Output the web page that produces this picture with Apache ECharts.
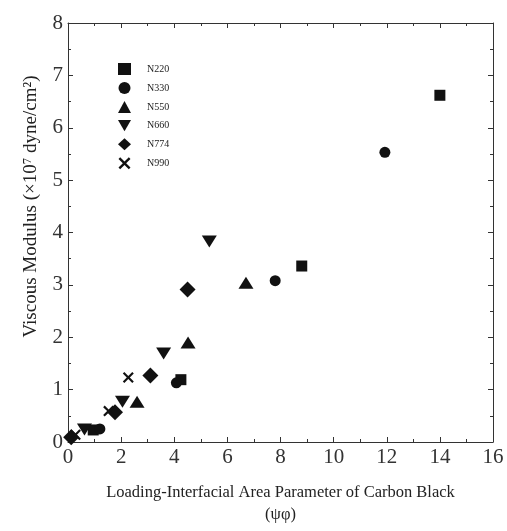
<!DOCTYPE html>
<html>
<head>
<meta charset="utf-8">
<script src="https://cdn.jsdelivr.net/npm/echarts@6/dist/echarts.min.js"></script>
<style>
  html, body { margin: 0; padding: 0; background: #fff; }
  #chart { width: 507px; height: 531px; }
</style>
</head>
<body>
<div id="chart"></div>
<script>
// grades of carbon black and their [psi*phi, viscous modulus] points
const grades = ['N220', 'N330', 'N550', 'N660', 'N774', 'N990'];
const n220 = [[0.95, 0.23], [4.25, 1.19], [8.8, 3.36], [14.0, 6.62]];
const n330 = [[1.2, 0.25], [4.08, 1.13], [7.8, 3.08], [11.93, 5.53]];
const n550 = [[2.6, 0.77], [4.52, 1.9], [6.7, 3.04]];
const n660 = [[0.62, 0.24], [2.05, 0.77], [3.6, 1.69], [5.32, 3.83]];
const n774 = [[0.12, 0.09], [1.77, 0.57], [3.1, 1.27], [4.5, 2.91]];
const n990 = [[0.28, 0.14], [1.53, 0.59], [2.27, 1.23]];
const xTicks = [0, 16, 2];
const yTicks = [0, 8, 1];

const serif = 'Liberation Serif';
const ink = '#111';

const downTri = 'path://M0,0 L10,0 L5,8.66 Z';
const cross = 'path://M0,1.4 L1.4,0 L5,3.6 L8.6,0 L10,1.4 L6.4,5 L10,8.6 L8.6,10 L5,6.4 L1.4,10 L0,8.6 L3.6,5 Z';

function makeSeries(name, data, symbol, size) {
  return {
    name: name,
    type: 'scatter',
    data: data,
    symbol: symbol,
    symbolSize: size,
    itemStyle: { color: ink, opacity: 1 },
    emphasis: { disabled: true }
  };
}

const axisBase = {
  axisLine: { show: true, onZero: false, lineStyle: { color: '#333', width: 1 } },
  axisTick: { show: true, inside: true, length: 5, lineStyle: { color: '#333' } },
  minorTick: { show: true, splitNumber: 2, length: 3, lineStyle: { color: '#333' } },
  splitLine: { show: false }
};

const myChart = echarts.init(document.getElementById('chart'));
const option = {
  animation: false,
  backgroundColor: '#fff',
  grid: { left: 68, right: 14, top: 23, bottom: 89 },
  legend: {
    data: grades,
    orient: 'vertical',
    left: 113,
    top: 58,
    itemWidth: 13,
    itemHeight: 12,
    itemGap: 7,
    textStyle: { fontFamily: serif, fontSize: 10, color: '#222', padding: [0, 0, 0, 11] }
  },
  xAxis: [
    Object.assign({}, axisBase, {
      type: 'value',
      min: xTicks[0], max: xTicks[1], interval: xTicks[2],
      position: 'bottom',
      axisLabel: { fontFamily: serif, fontSize: 21, color: '#333', margin: 5 },
      name: 'Loading-Interfacial Area Parameter of Carbon Black\n(ψφ)',
      nameLocation: 'middle',
      nameGap: 40,
      nameTextStyle: { fontFamily: serif, fontSize: 16.5, color: '#222', lineHeight: 22 }
    }),
    Object.assign({}, axisBase, {
      type: 'value',
      min: xTicks[0], max: xTicks[1], interval: xTicks[2],
      position: 'top',
      axisLabel: { show: false }
    })
  ],
  yAxis: [
    Object.assign({}, axisBase, {
      type: 'value',
      min: yTicks[0], max: yTicks[1], interval: yTicks[2],
      position: 'left',
      axisLabel: { fontFamily: serif, fontSize: 21, color: '#333', margin: 5 },
      name: 'Viscous Modulus (×10⁷ dyne/cm²)',
      nameLocation: 'middle',
      nameGap: 27,
      nameTextStyle: { fontFamily: serif, fontSize: 19, color: '#222', padding: [0, 0, 0, 52] }
    }),
    Object.assign({}, axisBase, {
      type: 'value',
      min: yTicks[0], max: yTicks[1], interval: yTicks[2],
      position: 'right',
      axisLabel: { show: false }
    })
  ],
  series: [
    makeSeries(grades[0], n220, 'rect', 11),
    makeSeries(grades[1], n330, 'circle', 11),
    makeSeries(grades[2], n550, 'triangle', [15, 12]),
    makeSeries(grades[3], n660, downTri, [15, 12]),
    makeSeries(grades[4], n774, 'diamond', [16, 16]),
    makeSeries(grades[5], n990, cross, 11)
  ]
};
myChart.setOption(option);
</script>
</body>
</html>
